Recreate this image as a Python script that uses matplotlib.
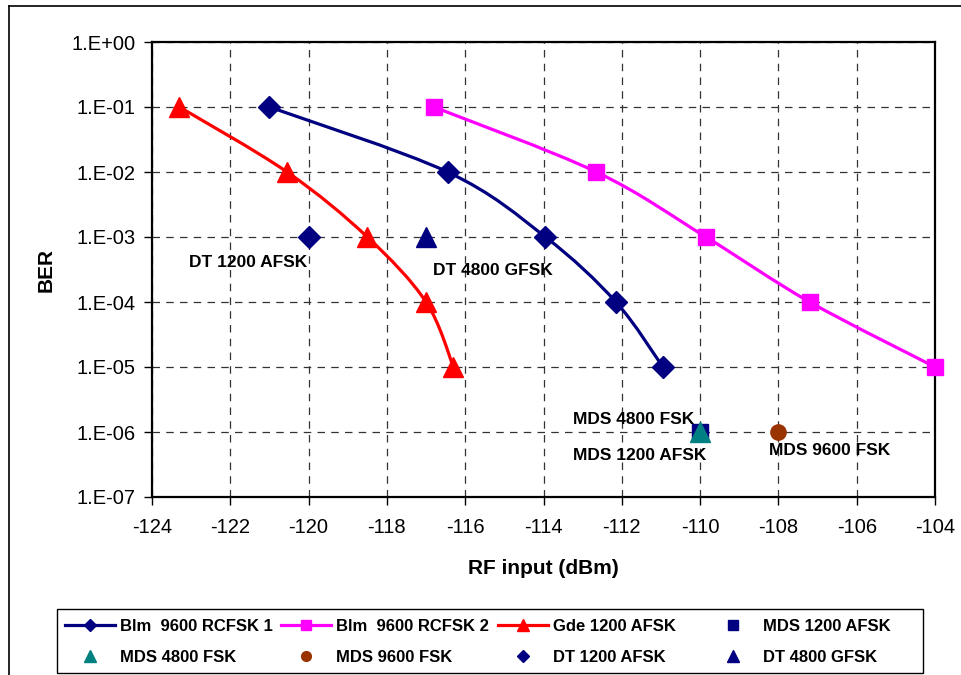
import numpy as np
import matplotlib
matplotlib.use("Agg")
import matplotlib.pyplot as plt
from matplotlib.path import Path
from matplotlib.patches import PathPatch, Rectangle
from matplotlib.lines import Line2D

plt.rcParams['font.family'] = ['Liberation Sans', 'DejaVu Sans']

# BER curves (RF input in dBm, bit error rate)
blm1_x = [-121.0, -116.45, -113.95, -112.15, -110.95]
blm1_y = [1e-1, 1e-2, 1e-3, 1e-4, 1e-5]
blm2_x = [-116.8, -112.65, -109.85, -107.2, -104.0]
blm2_y = [1e-1, 1e-2, 1e-3, 1e-4, 1e-5]
gde_x = [-123.3, -120.55, -118.5, -117.0, -116.3]
gde_y = [1e-1, 1e-2, 1e-3, 1e-4, 1e-5]

# single measurement points
mds1200 = (-110.0, 1e-6)
mds4800 = (-110.0, 1e-6)
mds9600 = (-108.0, 1e-6)
dt1200 = (-120.0, 1e-3)
dt4800 = (-117.0, 1e-3)

x_ticks = list(range(-124, -103, 2))
y_ticks = [1e0, 1e-1, 1e-2, 1e-3, 1e-4, 1e-5, 1e-6, 1e-7]
y_labels = ["1.E+00", "1.E-01", "1.E-02", "1.E-03", "1.E-04", "1.E-05", "1.E-06", "1.E-07"]

NAVY = "#000080"
MAGENTA = "#FF00FF"
RED = "#FF0000"
TEAL = "#008080"
BROWN = "#993300"

W, H = 961, 675
fig = plt.figure(figsize=(W / 100, H / 100), dpi=100)
ax = fig.add_axes([152 / W, 1 - 497 / H, (935 - 152) / W, (497 - 42) / H])


def smooth_path(xs, ys, tension=0.5):
    """Cubic Bezier path through points, computed in (x, log10 y) space."""
    lx = np.array(xs, float)
    ly = np.log10(np.array(ys, float))
    n = len(lx)
    verts = [(lx[0], ly[0])]
    codes = [Path.MOVETO]
    for i in range(n - 1):
        p0 = np.array([lx[max(i - 1, 0)], ly[max(i - 1, 0)]])
        p1 = np.array([lx[i], ly[i]])
        p2 = np.array([lx[i + 1], ly[i + 1]])
        p3 = np.array([lx[min(i + 2, n - 1)], ly[min(i + 2, n - 1)]])
        c1 = p1 + (p2 - p0) * tension / 3
        c2 = p2 - (p3 - p1) * tension / 3
        verts += [tuple(c1), tuple(c2), tuple(p2)]
        codes += [Path.CURVE4] * 3
    verts = [(vx, 10 ** vy) for vx, vy in verts]
    return Path(verts, codes)


ax.set_yscale("log")
ax.set_xlim(-124, -104)
ax.set_ylim(1e-7, 1e0)

for xs, ys, col in [(blm1_x, blm1_y, NAVY), (blm2_x, blm2_y, MAGENTA), (gde_x, gde_y, RED)]:
    ax.add_patch(PathPatch(smooth_path(xs, ys), facecolor="none", edgecolor=col,
                           lw=2.3, zorder=3, clip_on=False))

ax.plot(blm1_x, blm1_y, ls="none", marker="D", ms=11.5, color=NAVY, zorder=4, clip_on=False)
ax.plot(blm2_x, blm2_y, ls="none", marker="s", ms=11.5, color=MAGENTA, zorder=4, clip_on=False)
ax.plot(gde_x, gde_y, ls="none", marker="^", ms=14, color=RED, zorder=4, clip_on=False)

ax.plot(*mds1200, ls="none", marker="s", ms=11.5, color=NAVY, zorder=4)
ax.plot(*mds4800, ls="none", marker="^", ms=14, color=TEAL, zorder=5)
ax.plot(*mds9600, ls="none", marker="o", ms=11, color=BROWN, zorder=4)
ax.plot(*dt1200, ls="none", marker="D", ms=11.5, color=NAVY, zorder=4)
ax.plot(*dt4800, ls="none", marker="^", ms=14, color=NAVY, zorder=4)

# point annotations
lab_kw = dict(fontsize=12.5, fontweight="bold", ha="center", va="center", zorder=6)
ax.text(-121.55, 10 ** -3.385, "DT 1200 AFSK", **lab_kw)
ax.text(-115.3, 10 ** -3.51, "DT 4800 GFSK", **lab_kw)
ax.text(-111.7, 10 ** -5.815, "MDS 4800 FSK", **lab_kw)
ax.text(-111.55, 10 ** -6.354, "MDS 1200 AFSK", **lab_kw)
ax.text(-106.7, 10 ** -6.277, "MDS 9600 FSK", **lab_kw)

ax.set_xticks(x_ticks)
ax.set_xticklabels([str(v) for v in x_ticks], fontsize=14.5)
ax.set_yticks(y_ticks)
ax.set_yticklabels(y_labels, fontsize=14.5)
ax.yaxis.set_minor_locator(matplotlib.ticker.NullLocator())
ax.tick_params(axis="both", direction="out", length=6, width=1, color="black")
ax.tick_params(axis="y", pad=6)
ax.tick_params(axis="x", pad=9)

ax.grid(True, which="major", color="#333333", ls=(0, (6, 5)), lw=0.9)
ax.set_axisbelow(True)
for s in ax.spines.values():
    s.set_linewidth(1.6)
    s.set_color("black")

ax.set_xlabel("RF input (dBm)", fontsize=15, fontweight="bold", labelpad=16)
ax.set_ylabel("BER", fontsize=15, fontweight="bold", labelpad=11)

# legend: four equal-width columns of two entries each inside one frame
columns = [
    [(Line2D([], [], color=NAVY, lw=2.3, marker="D", ms=6.5), "Blm  9600 RCFSK 1"),
     (Line2D([], [], color=TEAL, ls="none", marker="^", ms=8), "MDS 4800 FSK")],
    [(Line2D([], [], color=MAGENTA, lw=2.3, marker="s", ms=6.5), "Blm  9600 RCFSK 2"),
     (Line2D([], [], color=BROWN, ls="none", marker="o", ms=7), "MDS 9600 FSK")],
    [(Line2D([], [], color=RED, lw=2.3, marker="^", ms=8), "Gde 1200 AFSK"),
     (Line2D([], [], color=NAVY, ls="none", marker="D", ms=6.5), "DT 1200 AFSK")],
    [(Line2D([], [], color=NAVY, ls="none", marker="s", ms=6.5), "MDS 1200 AFSK"),
     (Line2D([], [], color=NAVY, ls="none", marker="^", ms=8), "DT 4800 GFSK")],
]
col_left = [60, 276, 493, 703]
leg_top = 614
for cx, entries in zip(col_left, columns):
    lg = fig.legend([e[0] for e in entries], [e[1] for e in entries], loc="upper left",
                    bbox_to_anchor=(cx / W, 1 - leg_top / H), frameon=False,
                    prop=dict(size=12, weight="bold"), handlelength=3.0,
                    handletextpad=0.3, labelspacing=0.95, borderpad=0.3, borderaxespad=0)

fig.add_artist(Rectangle((57 / W, 1 - 673 / H), (923 - 57) / W, (673 - 609) / H,
                         transform=fig.transFigure, facecolor="none",
                         edgecolor="black", lw=1.0))

# outer chart frame
fig.add_artist(Line2D([9 / W, 9 / W], [0, 1 - 6 / H], color="black", lw=1.2,
                      transform=fig.transFigure))
fig.add_artist(Line2D([9 / W, 1], [1 - 6 / H, 1 - 6 / H], color="black", lw=1.2,
                      transform=fig.transFigure))

fig.savefig("out.png", dpi=100, facecolor="white")
